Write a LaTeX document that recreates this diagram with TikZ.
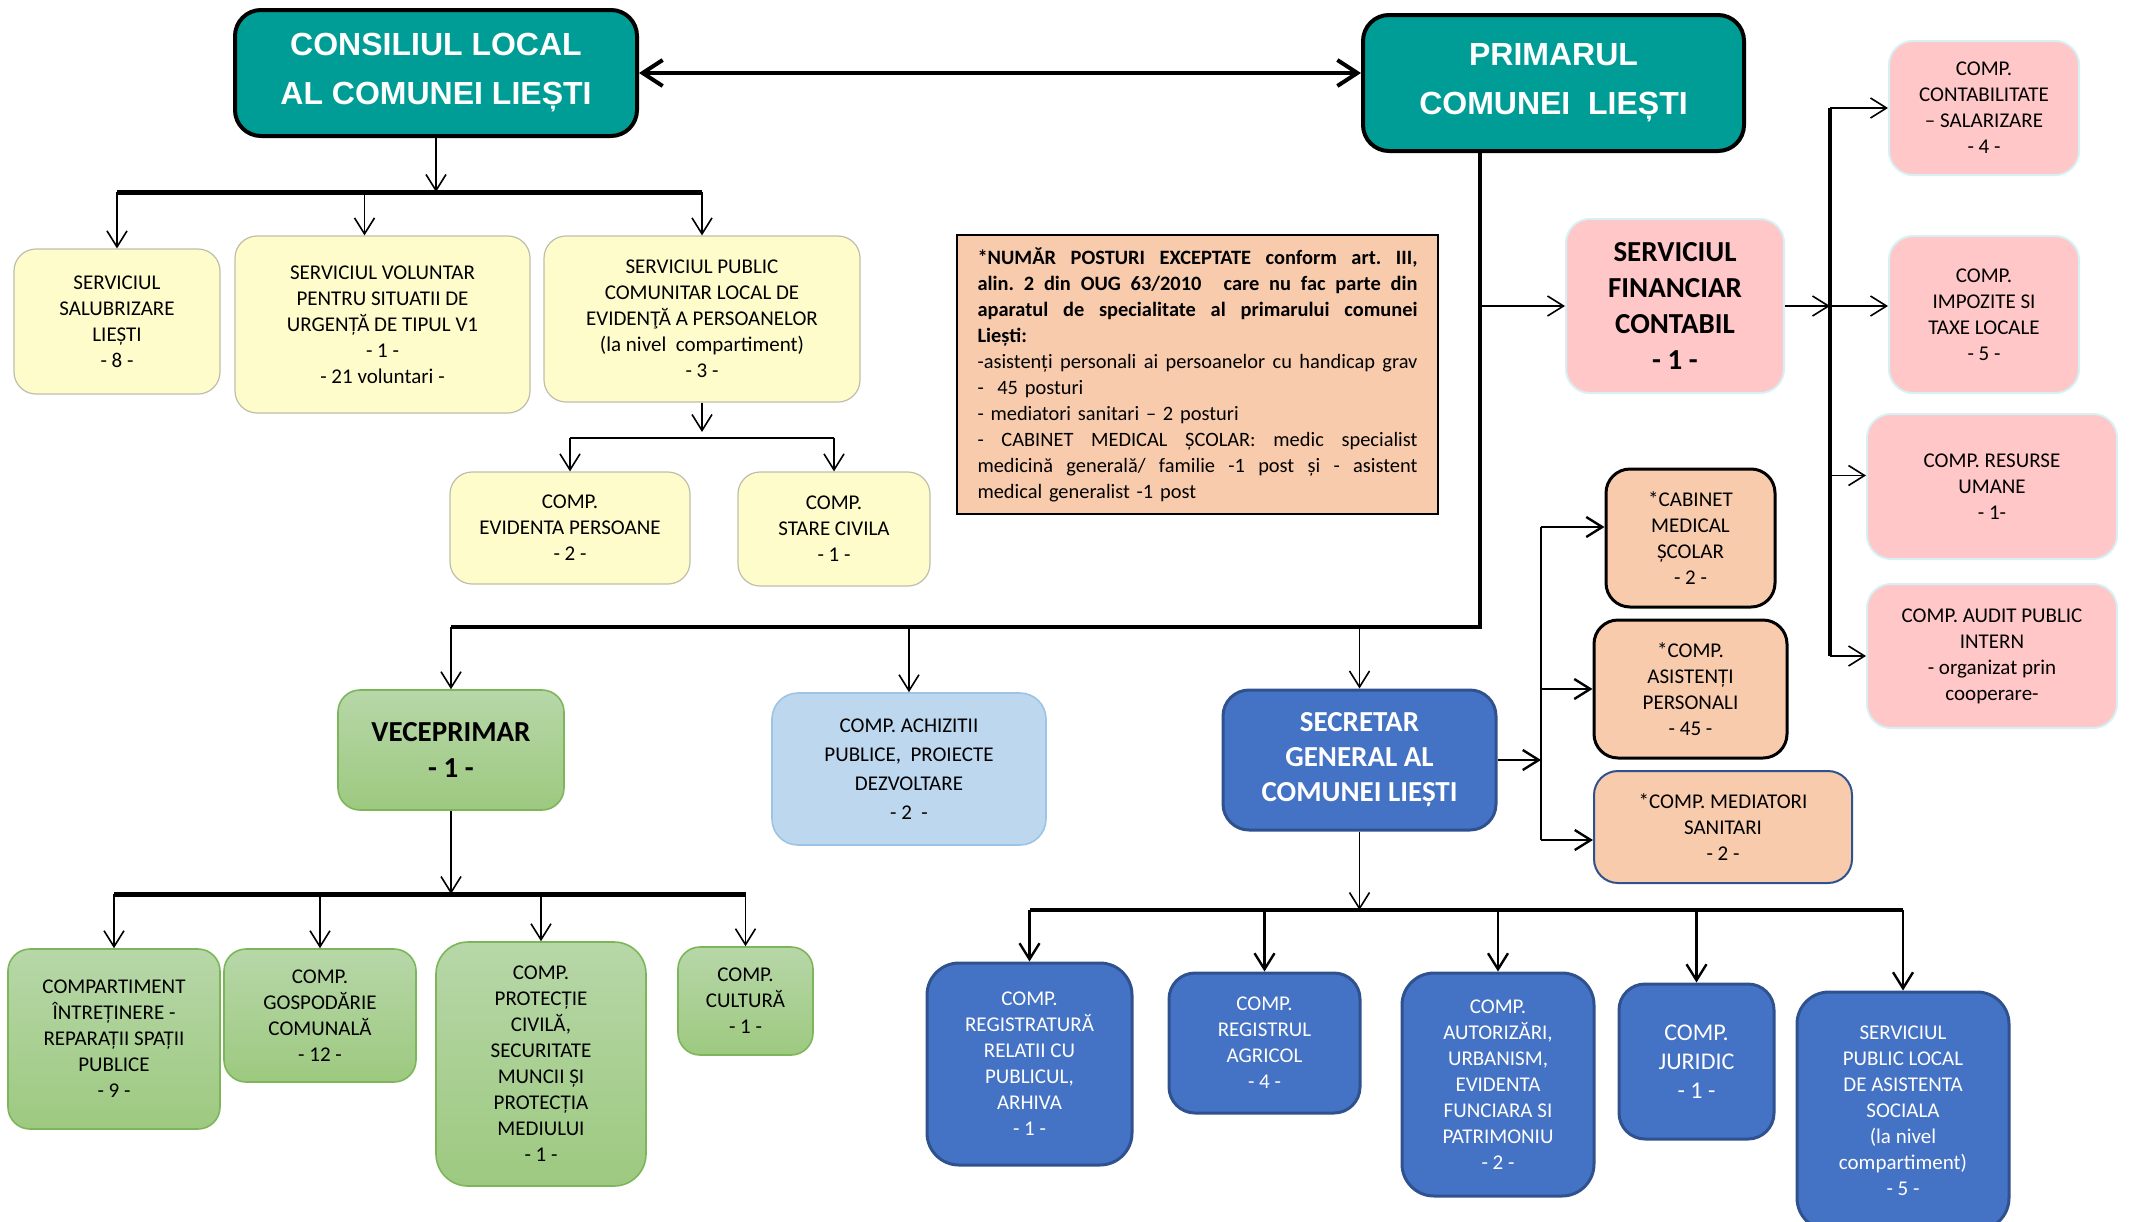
\documentclass[tikz,border=0pt]{standalone}
\usepackage{fontspec}
\setmainfont{Carlito}
\newfontfamily\fonttitlu{Liberation Sans}
\usetikzlibrary{arrows.meta}
\definecolor{cturcoaz}{RGB}{0,157,150}
\definecolor{cgalben}{RGB}{255,252,204}
\definecolor{cgalbenm}{RGB}{190,190,170}
\definecolor{cpiersica}{RGB}{248,203,173}
\definecolor{croz}{RGB}{255,199,199}
\definecolor{crozm}{RGB}{214,240,245}
\definecolor{cverdesus}{RGB}{183,215,168}
\definecolor{cverdejos}{RGB}{157,201,128}
\definecolor{cverdem}{RGB}{125,182,90}
\definecolor{cbleu}{RGB}{189,215,238}
\definecolor{cbleum}{RGB}{157,195,230}
\definecolor{calbastru}{RGB}{68,114,196}
\definecolor{calbastrum}{RGB}{47,82,143}
\newcommand{\rand}[1]{\makebox[220pt][s]{\spaceskip=0.25em plus 1em minus 0.1em\xspaceskip=\spaceskip\relax #1}}
\tikzset{
  cutie/.style={rounded corners=11pt, align=center, inner sep=2pt, font=\fontsize{10.5}{13}\selectfont},
  titlu/.style={cutie, rounded corners=13pt, fill=cturcoaz, draw=black, line width=2pt, text=white, font=\fonttitlu\bfseries\fontsize{16}{24.5}\selectfont},
  galben/.style={cutie, fill=cgalben, draw=cgalbenm, line width=0.6pt},
  roz/.style={cutie, rounded corners=12pt, fill=croz, draw=crozm, line width=1pt},
  piersic/.style={cutie, rounded corners=12pt, fill=cpiersica, draw=black, line width=1.5pt},
  verde/.style={cutie, top color=cverdesus, bottom color=cverdejos, draw=cverdem, line width=0.8pt},
  bleu/.style={cutie, rounded corners=13pt, fill=cbleu, draw=cbleum, line width=0.8pt, font=\fontsize{10.5}{14.5}\selectfont},
  albastru/.style={cutie, rounded corners=13pt, fill=calbastru, draw=calbastrum, line width=1.5pt, text=white},
  legatura/.style={line width=0.8pt, ->},
  bara/.style={line width=2.5pt},
}

\begin{document}
\begin{tikzpicture}[x=0.5pt, y=-0.5pt, >={Straight Barb[length=8pt,width=10pt]}]
        \useasboundingbox (0,0) rectangle (2131,1221);
        % conducere
        \node[titlu, minimum width=201pt, minimum height=63pt] (consiliul) at (436,73) {CONSILIUL LOCAL\\AL COMUNEI LIEȘTI};
        \node[titlu, minimum width=190.5pt, minimum height=68pt] (primarul) at (1553.5,83) {PRIMARUL\\COMUNEI~~LIEȘTI};
        \draw[line width=2pt, <->, >={Straight Barb[length=10pt,width=13pt]}] (consiliul.east) -- (primarul.west |- consiliul.east);
        % servicii consiliu local
        \node[galben, minimum width=103pt, minimum height=72.5pt] (salubrizare) at (117,321.5) {SERVICIUL\\SALUBRIZARE\\LIEȘTI\\- 8 -};
        \node[galben, minimum width=147.5pt, minimum height=88.5pt] (voluntar) at (382.5,324.5) {SERVICIUL VOLUNTAR\\PENTRU SITUATII DE\\URGENȚĂ DE TIPUL V1\\- 1 -\\- 21 voluntari -};
        \node[galben, minimum width=158pt, minimum height=83pt] (spclep) at (702,319) {SERVICIUL PUBLIC\\COMUNITAR LOCAL DE\\EVIDENŢĂ A PERSOANELOR\\(la nivel~ compartiment)\\- 3 -};
        \node[galben, minimum width=120pt, minimum height=56pt] (evidenta) at (570,528) {COMP.\\EVIDENTA PERSOANE\\- 2 -};
        \node[galben, minimum width=96pt, minimum height=57pt] (starecivila) at (834,529) {COMP.\\STARE CIVILA\\- 1 -};
        \coordinate (busCL) at (0,192);
        \draw[legatura] (consiliul.south) -- (consiliul.south |- busCL);
        \draw[bara] (salubrizare.north |- busCL) -- (spclep.north |- busCL);
        \draw[legatura] (salubrizare.north |- busCL) -- (salubrizare.north);
        \draw[legatura] ([xshift=-9pt]voluntar.north |- busCL) -- ([xshift=-9pt]voluntar.north);
        \draw[legatura] (spclep.north |- busCL) -- (spclep.north);
        \coordinate (busEP) at (0,438);
        \draw[legatura] (spclep.south) -- ([yshift=3pt]spclep.south |- busEP);
        \draw[line width=1.2pt] (evidenta.north |- busEP) -- (starecivila.north |- busEP);
        \foreach \n in {evidenta,starecivila}
        \draw[legatura] (\n.north |- busEP) -- (\n.north);
        % nota
        \node[draw=black, line width=1pt, fill=cpiersica, minimum width=240.5pt, minimum height=139.5pt, text width=220pt, align=left, inner sep=0pt, font=\fontsize{10.2}{13}\selectfont] (nota) at (1197.5,374.5) {%
        \rand{\bfseries *NUMĂR POSTURI EXCEPTATE conform art. III,}\\
        \rand{\bfseries alin. 2 din OUG 63/2010\hspace{0.6em} care nu fac parte din}\\
        \rand{\bfseries aparatul de specialitate al primarului comunei}\\
        \textbf{Liești:}\\
        \rand{-asistenți personali ai persoanelor cu handicap grav}\\
        -~ 45 posturi\\
        - mediatori sanitari – 2 posturi\\
        \rand{- CABINET MEDICAL ȘCOLAR: medic specialist}\\
        \rand{medicină generală/ familie -1 post și - asistent}\\
        medical generalist -1 post};
        % serviciul financiar
        \node[roz, minimum width=109pt, minimum height=87pt, font=\bfseries\fontsize{14.5}{18}\selectfont] (financiar) at (1675,306) {SERVICIUL\\FINANCIAR\\CONTABIL\\- 1 -};
        \node[roz, minimum width=95pt, minimum height=67pt] (contabilitate) at (1984,108) {COMP.\\CONTABILITATE\\– SALARIZARE\\- 4 -};
        \node[roz, minimum width=95pt, minimum height=78.5pt] (impozite) at (1984,314.5) {COMP.\\IMPOZITE SI\\TAXE LOCALE\\- 5 -};
        \node[roz, minimum width=125pt, minimum height=72.5pt] (resurse) at (1992,486.5) {COMP. RESURSE\\UMANE\\- 1-};
        \node[roz, minimum width=125pt, minimum height=72pt] (audit) at (1992,656) {COMP. AUDIT PUBLIC\\INTERN\\- organizat prin\\cooperare-};
        \coordinate (busF) at (1830,107);
        \draw[legatura] (financiar.east) -- (busF |- financiar.east);
        \draw[line width=1.8pt] (busF |- contabilitate.west) -- (busF |- audit.west);
        \draw[legatura] (busF |- contabilitate.west) -- (contabilitate.west);
        \draw[legatura] (busF |- financiar.east) -- (financiar.east -| impozite.west);
        \draw[legatura] ([yshift=5.5pt]busF |- resurse.west) -- ([yshift=5.5pt]resurse.west);
        \draw[legatura] (busF |- audit.west) -- (audit.west);
        % primar -> subordonati
        \node[verde, minimum width=113pt, minimum height=60pt, font=\bfseries\fontsize{14.5}{18}\selectfont] (viceprimar) at (451,750) {VECEPRIMAR\\- 1 -};
        \node[bleu, minimum width=137pt, minimum height=76pt] (achizitii) at (909,769) {COMP. ACHIZITII\\PUBLICE,~ PROIECTE\\DEZVOLTARE\\- 2~ -};
        \node[albastru, minimum width=136.5pt, minimum height=70pt, font=\bfseries\fontsize{14.5}{17.5}\selectfont] (secretar) at (1359.5,760) {SECRETAR\\GENERAL AL\\COMUNEI LIEȘTI};
        \coordinate (trunk) at (1480,627);
        \draw[line width=2pt] (primarul.south -| trunk) -- (trunk) -- (viceprimar.north |- trunk);
        \draw[legatura] (trunk |- financiar.west) -- (financiar.west);
        \foreach \n in {viceprimar,achizitii,secretar}
        \draw[legatura] (\n.north |- trunk) -- (\n.north);
        % posturi exceptate
        \node[piersic, minimum width=84.5pt, minimum height=69pt] (cabinet) at (1690.5,538) {*CABINET\\MEDICAL\\ȘCOLAR\\- 2 -};
        \node[piersic, minimum width=96.5pt, minimum height=69pt] (asistenti) at (1690.5,689) {*COMP.\\ASISTENȚI\\PERSONALI\\- 45 -};
        \node[piersic, draw=calbastrum, line width=1pt, minimum width=129pt, minimum height=56pt] (mediatori) at (1723,827) {*COMP. MEDIATORI\\SANITARI\\- 2 -};
        \coordinate (busP) at (1541,0);
        \draw[legatura, line width=1.2pt] (secretar.east) -- (busP |- secretar.east);
        \draw[line width=1pt] ([yshift=5.5pt]busP |- cabinet.west) -- ([yshift=-6.5pt]busP |- mediatori.west);
        \draw[legatura, line width=1.2pt] ([yshift=5.5pt]busP |- cabinet.west) -- ([yshift=5.5pt]cabinet.west);
        \draw[legatura, line width=1.2pt] (busP |- asistenti.west) -- (asistenti.west);
        \draw[legatura, line width=1.2pt] ([yshift=-6.5pt]busP |- mediatori.west) -- ([yshift=-6.5pt]mediatori.west);
        % viceprimar
        \node[verde, minimum width=106pt, minimum height=90pt] (intretinere) at (114,1039) {COMPARTIMENT\\ÎNTREȚINERE -\\REPARAȚII SPAȚII\\PUBLICE\\- 9 -};
        \node[verde, minimum width=96pt, minimum height=66.5pt] (gospodarie) at (320,1015.5) {COMP.\\GOSPODĂRIE\\COMUNALĂ\\- 12 -};
        \node[verde, rounded corners=16pt, minimum width=105pt, minimum height=122pt] (protectie) at (541,1064) {COMP.\\PROTECȚIE\\CIVILĂ,\\SECURITATE\\MUNCII ȘI\\PROTECȚIA\\MEDIULUI\\- 1 -};
        \node[verde, minimum width=67.5pt, minimum height=54pt] (cultura) at (745.5,1001) {COMP.\\CULTURĂ\\- 1 -};
        \coordinate (busV) at (0,894);
        \draw[legatura] (viceprimar.south) -- (viceprimar.south |- busV);
        \draw[bara] (intretinere.north |- busV) -- (cultura.north |- busV);
        \foreach \n in {intretinere,gospodarie,protectie,cultura}
        \draw[legatura] (\n.north |- busV) -- (\n.north);
        % secretar general
        \node[albastru, rounded corners=16pt, minimum width=102.5pt, minimum height=101pt] (registratura) at (1029.5,1064) {COMP.\\REGISTRATURĂ\\RELATII CU\\PUBLICUL,\\ARHIVA\\- 1 -};
        \node[albastru, minimum width=95.5pt, minimum height=70pt] (agricol) at (1264.5,1043) {COMP.\\REGISTRUL\\AGRICOL\\- 4 -};
        \node[albastru, rounded corners=16pt, minimum width=96pt, minimum height=111.5pt] (autorizari) at (1498,1084.5) {COMP.\\AUTORIZĂRI,\\URBANISM,\\EVIDENTA\\FUNCIARA SI\\PATRIMONIU\\- 2 -};
        \node[albastru, minimum width=77.5pt, minimum height=77.5pt, font=\fontsize{12}{14.5}\selectfont] (juridic) at (1696.5,1061.5) {COMP.\\JURIDIC\\- 1 -};
        \node[albastru, rounded corners=16pt, minimum width=106pt, minimum height=119pt] (asistenta) at (1903,1111) {SERVICIUL\\PUBLIC LOCAL\\DE ASISTENTA\\SOCIALA\\(la nivel\\compartiment)\\- 5 -};
        \coordinate (busS) at (0,910);
        \draw[legatura] (secretar.south) -- (secretar.south |- busS);
        \draw[line width=2pt] (registratura.north |- busS) -- (asistenta.north |- busS);
        \foreach \n in {registratura,agricol,autorizari,juridic,asistenta}
        \draw[legatura, line width=1.2pt] (\n.north |- busS) -- (\n.north);
\end{tikzpicture}
\end{document}
